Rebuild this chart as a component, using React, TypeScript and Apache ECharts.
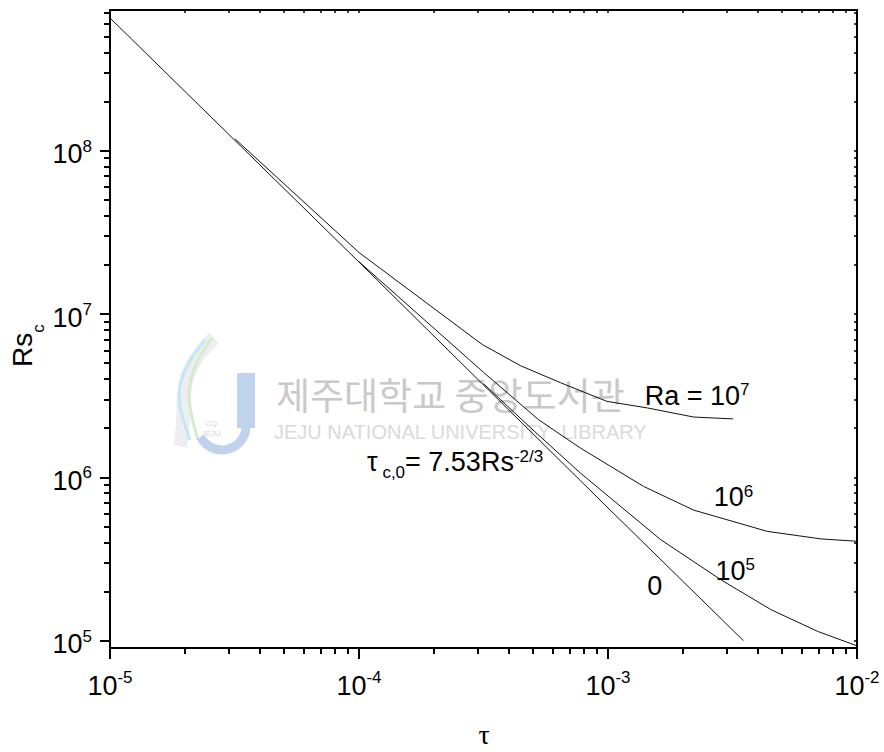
import React, { useEffect, useRef } from 'react';
import * as echarts from 'echarts';

// ---- Data ----
const tauRa0 = [1e-5, 1e-4, 1e-3, 3.5e-3];
const rsRa0 = [6.5e8, 2.08e7, 6.5e5, 1.0e5];

const tauRa5 = [3.16e-4, 4.89e-4, 7.76e-4, 1.63e-3, 2.84e-3, 4.51e-3, 6.95e-3, 1.0e-2];
const rsRa5 = [3.75e6, 2.01e6, 1.06e6, 4.15e5, 2.36e5, 1.55e5, 1.14e5, 9.3e4];

const tauRa6 = [1.0e-4, 3.16e-4, 5.27e-4, 7.76e-4, 1.39e-3, 2.21e-3, 4.36e-3, 7.16e-3, 1.0e-2];
const rsRa6 = [2.09e7, 4.4e6, 2.25e6, 1.51e6, 8.8e5, 6.3e5, 4.67e5, 4.2e5, 4.06e5];

const tauRa7 = [3.18e-5, 1.0e-4, 3.13e-4, 4.45e-4, 6.44e-4, 9.9e-4, 1.44e-3, 2.21e-3, 3.18e-3];
const rsRa7 = [1.18e8, 2.38e7, 6.5e6, 4.83e6, 3.8e6, 2.92e6, 2.66e6, 2.34e6, 2.28e6];

const xTickExponents = [-5, -4, -3, -2];
const yTickExponents = [5, 6, 7, 8];
const minorMultipliers = [2, 3, 4, 5, 6, 7, 8, 9];

const X_MIN = 1e-5;
const X_MAX = 1e-2;
const Y_MIN = 9.02e4;
const Y_MAX = 7.27e8;

const FONT = '"Liberation Sans", Arial, Helvetica, sans-serif';

function App() {
  const ref = useRef<HTMLDivElement>(null);

  useEffect(() => {
    if (!ref.current) return;
    const chart = echarts.init(ref.current, null, { renderer: 'svg' });

    const lx0 = Math.log10(X_MIN), lx1 = Math.log10(X_MAX);
    const ly0 = Math.log10(Y_MIN), ly1 = Math.log10(Y_MAX);

    const minorIn = (lo: number, hi: number) => {
      const out: number[] = [];
      for (let d = Math.floor(lo); d <= Math.ceil(hi); d++) {
        for (const m of minorMultipliers) {
          const v = d + Math.log10(m);
          if (v > lo + 1e-9 && v < hi - 1e-9) out.push(v);
        }
      }
      return out;
    };
    const xMinor = minorIn(lx0, lx1);
    const yMinor = minorIn(ly0, ly1);
    const xAll = [...xTickExponents, ...xMinor].sort((a, b) => a - b);
    const yAll = [...yTickExponents, ...yMinor].sort((a, b) => a - b);

    const tickRich = {
      b: { fontSize: 27, lineHeight: 30, padding: [3, 0, 0, 0], verticalAlign: 'top', fontFamily: FONT, color: '#000' },
      sup: { fontSize: 17, lineHeight: 17, verticalAlign: 'top', fontFamily: FONT, color: '#000' },
    };
    const fmt = (v: number) => `{b|10}{sup|${Math.round(v)}}`;

    const axisLine = { show: true, onZero: false, lineStyle: { color: '#000', width: 2 } };

    const mkSeries = (name: string, tau: number[], rs: number[]) => ({
      type: 'line',
      name,
      data: tau.map((t, i) => [Math.log10(t), Math.log10(rs[i])]),
      showSymbol: false,
      symbol: 'none',
      lineStyle: { color: '#111', width: 1 },
      xAxisIndex: 0,
      yAxisIndex: 0,
      silent: true,
      z: 5,
    });

    const lblRich = {
      m: { fontSize: 27, lineHeight: 30, padding: [8, 0, 0, 0], verticalAlign: 'top', fontFamily: FONT, fill: '#000', color: '#000' },
      p: { fontSize: 17, lineHeight: 17, padding: [7, 0, 0, 0], verticalAlign: 'top', fontFamily: FONT, fill: '#000', color: '#000' },
      s: { fontSize: 17, lineHeight: 17, padding: [23, 0, 0, 0], verticalAlign: 'top', fontFamily: FONT, fill: '#000', color: '#000' },
    };
    const lbl = (text: string, x: number, y: number) => ({
      type: 'text', x, y, z: 20, silent: true,
      style: { text, rich: lblRich, align: 'left', verticalAlign: 'top', fill: '#000', fontFamily: FONT, fontSize: 27 },
    });

    const wm = '#c9c9c9';

    chart.setOption({
      animation: false,
      backgroundColor: '#fff',
      grid: { left: 110, top: 10, right: 27, bottom: 104, containLabel: false },
      xAxis: [
        {
          type: 'value', min: lx0, max: lx1, position: 'bottom',
          axisLine,
          axisTick: { show: true, customValues: xTickExponents, length: 11, inside: false, lineStyle: { color: '#000', width: 2 } },
          axisLabel: { show: true, customValues: xTickExponents, formatter: fmt, rich: tickRich, margin: 17, padding: [4, 0, 0, 0] },
          splitLine: { show: false },
        },
        {
          type: 'value', min: lx0, max: lx1, position: 'bottom',
          axisLine: { show: false, onZero: false },
          axisTick: { show: true, customValues: xMinor, length: 6, inside: false, lineStyle: { color: '#000', width: 2 } },
          axisLabel: { show: false },
          splitLine: { show: false },
        },
        {
          type: 'value', min: lx0, max: lx1, position: 'top',
          axisLine,
          axisTick: { show: true, customValues: xAll, length: 3, inside: true, lineStyle: { color: '#000', width: 1.5 } },
          axisLabel: { show: false },
          splitLine: { show: false },
        },
      ],
      yAxis: [
        {
          type: 'value', min: ly0, max: ly1, position: 'left',
          axisLine,
          axisTick: { show: true, customValues: yTickExponents, length: 10, inside: false, lineStyle: { color: '#000', width: 2 } },
          axisLabel: { show: true, customValues: yTickExponents, formatter: fmt, rich: tickRich, margin: 18, padding: [4, 0, 0, 0] },
          splitLine: { show: false },
        },
        {
          type: 'value', min: ly0, max: ly1, position: 'left',
          axisLine: { show: false, onZero: false },
          axisTick: { show: true, customValues: yMinor, length: 6, inside: false, lineStyle: { color: '#000', width: 2 } },
          axisLabel: { show: false },
          splitLine: { show: false },
        },
        {
          type: 'value', min: ly0, max: ly1, position: 'right',
          axisLine,
          axisTick: { show: true, customValues: yAll, length: 3, inside: true, lineStyle: { color: '#000', width: 1.5 } },
          axisLabel: { show: false },
          splitLine: { show: false },
        },
      ],
      series: [
        mkSeries('0', tauRa0, rsRa0),
        mkSeries('Ra = 10^5', tauRa5, rsRa5),
        mkSeries('Ra = 10^6', tauRa6, rsRa6),
        mkSeries('Ra = 10^7', tauRa7, rsRa7),
      ],
      graphic: [
        // watermark logo (approximate, pale)
        { type: 'bezierCurve', z: 1, silent: true, shape: { x1: 214, y1: 338, x2: 180, y2: 446, cpx1: 170, cpy1: 380, cpx2: 190, cpy2: 400 }, style: { stroke: '#eceef2', lineWidth: 14, fill: 'none' } },
        { type: 'bezierCurve', z: 1, silent: true, shape: { x1: 205, y1: 340, x2: 190, y2: 440, cpx1: 168, cpy1: 385, cpx2: 178, cpy2: 405 }, style: { stroke: '#c6e6f5', lineWidth: 3, fill: 'none' } },
        { type: 'bezierCurve', z: 1, silent: true, shape: { x1: 212, y1: 338, x2: 198, y2: 440, cpx1: 180, cpy1: 380, cpx2: 188, cpy2: 405 }, style: { stroke: '#d6ebcb', lineWidth: 3, fill: 'none' } },
        { type: 'rect', z: 1, silent: true, shape: { x: 237, y: 373, width: 18, height: 55 }, style: { fill: '#c0d2ec' } },
        { type: 'arc', z: 1, silent: true, shape: { cx: 222, cy: 426, r: 24, startAngle: 0, endAngle: Math.PI * 0.85 }, style: { stroke: '#c0d2ec', lineWidth: 9, fill: 'none' } },
        { type: 'text', z: 1, silent: true, x: 211, y: 428, style: { text: 'CQ\nJEJU', fontSize: 8, lineHeight: 10, fontFamily: FONT, fill: '#d3d7de', align: 'center', verticalAlign: 'middle' } },
        { type: 'text', z: 1, silent: true, x: 276, y: 394, style: { text: '제주대학교 중앙도서관', fontSize: 37, fontFamily: '"Noto Sans CJK KR", sans-serif', fill: wm, align: 'left', verticalAlign: 'middle' } },
        { type: 'text', z: 1, silent: true, x: 274, y: 432, style: { text: 'JEJU NATIONAL UNIVERSITY  LIBRARY', fontSize: 20, fontFamily: FONT, fill: '#dadada', align: 'left', verticalAlign: 'middle' } },

        // curve labels
        lbl('{m|Ra = 10}{p|7}', 644.7, 374.3),
        lbl('{m|10}{p|6}', 713.8, 475.9),
        lbl('{m|10}{p|5}', 715.4, 549.3),
        lbl('{m|0}', 647.2, 564.9),
        lbl('{m|τ}{s| c,0}{m|= 7.53Rs}{p|-2/3}', 367, 440.6),

        // axis titles
        {
          type: 'text', x: 8.6, y: 367, rotation: Math.PI / 2, silent: true, z: 20,
          style: {
            text: '{m|Rs}{s|c}',
            align: 'left', verticalAlign: 'top', fill: '#000', fontFamily: FONT, fontSize: 28,
            rich: {
              m: { fontSize: 28, lineHeight: 30, verticalAlign: 'top', fontFamily: FONT, fill: '#000', color: '#000' },
              s: { fontSize: 17, lineHeight: 17, padding: [21.5, 0, 0, 0], verticalAlign: 'top', fontFamily: FONT, fill: '#000', color: '#000' },
            },
          },
        },
        {
          type: 'text', x: 484, y: 734, silent: true, z: 20,
          style: { text: 'τ', fontSize: 28, fontFamily: '"Liberation Serif", "DejaVu Serif", serif', fill: '#000', align: 'center', verticalAlign: 'middle' },
        },
      ],
    });

    return () => chart.dispose();
  }, []);

  return <div ref={ref} style={{ position: 'absolute', left: 0, top: 0, width: 884, height: 752 }} />;
}

export default App;
